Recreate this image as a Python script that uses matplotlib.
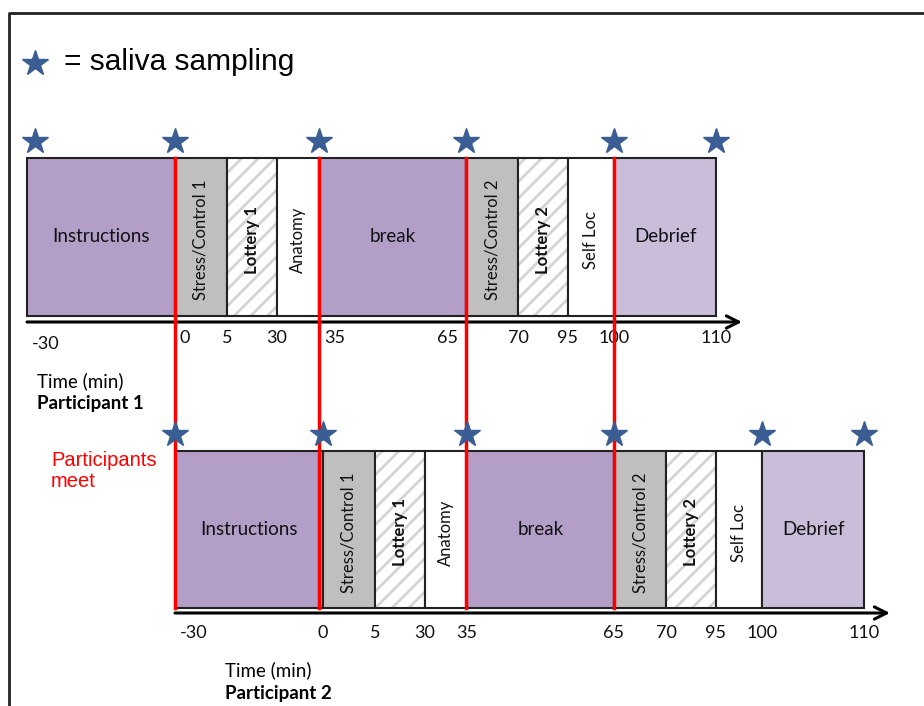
import matplotlib.pyplot as plt
import numpy as np

# study timeline (same for both participants, participant 2 shifted)
phases = ["Instructions", "Stress/Control 1", "Lottery 1", "Anatomy", "break",
          "Stress/Control 2", "Lottery 2", "Self Loc", "Debrief"]
time_labels = ["-30", "0", "5", "30", "35", "65", "70", "95", "100", "110"]
saliva_at = [0, 1, 4, 5, 8, 9]        # boundary index where saliva is sampled
meet_at = [1, 4, 5, 8]                # participant-1 boundaries aligned with participant 2

# schematic box widths (not to scale)
box_w = [148, 52, 50, 42, 147, 52, 50, 46, 102]
box_col = ['#B39EC7', '#BFBFBF', 'white', 'white', '#B39EC7',
           '#BFBFBF', 'white', 'white', '#C9BDDA']
hatched = [False, False, True, False, False, False, True, False, False]
vertical = [False, True, True, True, False, True, True, True, False]
bold = [False, False, True, False, False, False, True, False, False]

plt.rcParams['hatch.linewidth'] = 2.0
plt.rcParams['font.family'] = ['Lato', 'DejaVu Sans']

fig = plt.figure(figsize=(9.24, 7.06), dpi=100)
ax = fig.add_axes([0, 0, 1, 1])
ax.set_xlim(0, 924)
ax.set_ylim(706, 0)
ax.axis('off')

# frame
ax.plot([9, 9, 930], [710, 13, 13], color='#222222', lw=2, clip_on=False)

star_col = '#3A5D93'
ax.plot(35, 63, marker='*', ms=19, color=star_col, mec=star_col)
ax.text(64, 62, "= saliva sampling", fontsize=21.5, va='center',
        family=['Liberation Sans'])

edges0 = np.concatenate([[0], np.cumsum(box_w)])
shift = box_w[0]

rows = [
    dict(x0=27, top=158, bot=316, axis_y=322, lab_y=338, name="Participant 1",
         ha=['left', 'left', 'center', 'center', 'left', 'right',
             'center', 'center', 'center', 'center'],
         tx=37, ty=381),
    dict(x0=27 + shift, top=451, bot=608, axis_y=613, lab_y=633, name="Participant 2",
         ha=['left'] + ['center'] * 9,
         tx=225, ty=670),
]

for r in rows:
    edges = r['x0'] + edges0
    h = r['bot'] - r['top']
    yc = (r['top'] + r['bot']) / 2
    for i, ph in enumerate(phases):
        if hatched[i]:
            ax.barh(yc, box_w[i], left=edges[i], height=h, color='white',
                    edgecolor='#D4D4D4', hatch='//', lw=0)
            ax.barh(yc, box_w[i], left=edges[i], height=h, fill=False,
                    edgecolor='#222222', lw=1.5)
        else:
            ax.barh(yc, box_w[i], left=edges[i], height=h, color=box_col[i],
                    edgecolor='#222222', lw=1.5)
        xc = edges[i] + box_w[i] / 2
        ax.text(xc, yc + 3 if vertical[i] else yc, ph,
                rotation=90 if vertical[i] else 0,
                ha='center', va='center', fontsize=12 if vertical[i] else 13.5,
                fontweight='bold' if bold[i] else 'normal', color='#111111')
    # time axis
    ax.annotate('', xy=(edges[-1] + 26, r['axis_y']), xytext=(edges[0], r['axis_y']),
                arrowprops=dict(arrowstyle='->', lw=2.2, color='black',
                                mutation_scale=22, shrinkA=0, shrinkB=0))
    for i, t in enumerate(time_labels):
        dx = {'left': 5, 'right': -8, 'center': 0}[r['ha'][i]]
        dy = 6 if (r is rows[0] and i == 0) else 0
        ax.text(edges[i] + dx, r['lab_y'] + dy, t, ha=r['ha'][i], va='center',
                fontsize=13, color='#111111')
    for i in saliva_at:
        sx = edges[i] + (8 if (r is rows[0] and i == 0) else 0)
        ax.plot(sx, r['top'] - 17, marker='*', ms=19, color=star_col,
                mec=star_col, zorder=5)
    ax.text(r['tx'], r['ty'], "Time (min)", fontsize=13.5, va='center')
    ax.text(r['tx'], r['ty'] + 23, r['name'], fontsize=13.5, va='center',
            fontweight='bold')

# red lines where the two timelines line up
for i in meet_at:
    x = rows[0]['x0'] + edges0[i]
    ax.plot([x, x], [rows[0]['top'], rows[1]['bot']], color='red', lw=2.5, zorder=4)

ax.text(51, 471, "Participants\nmeet", color='red', fontsize=14.5, va='center',
        linespacing=1.15, family=['Liberation Sans'])

fig.savefig("out.png", dpi=100)
